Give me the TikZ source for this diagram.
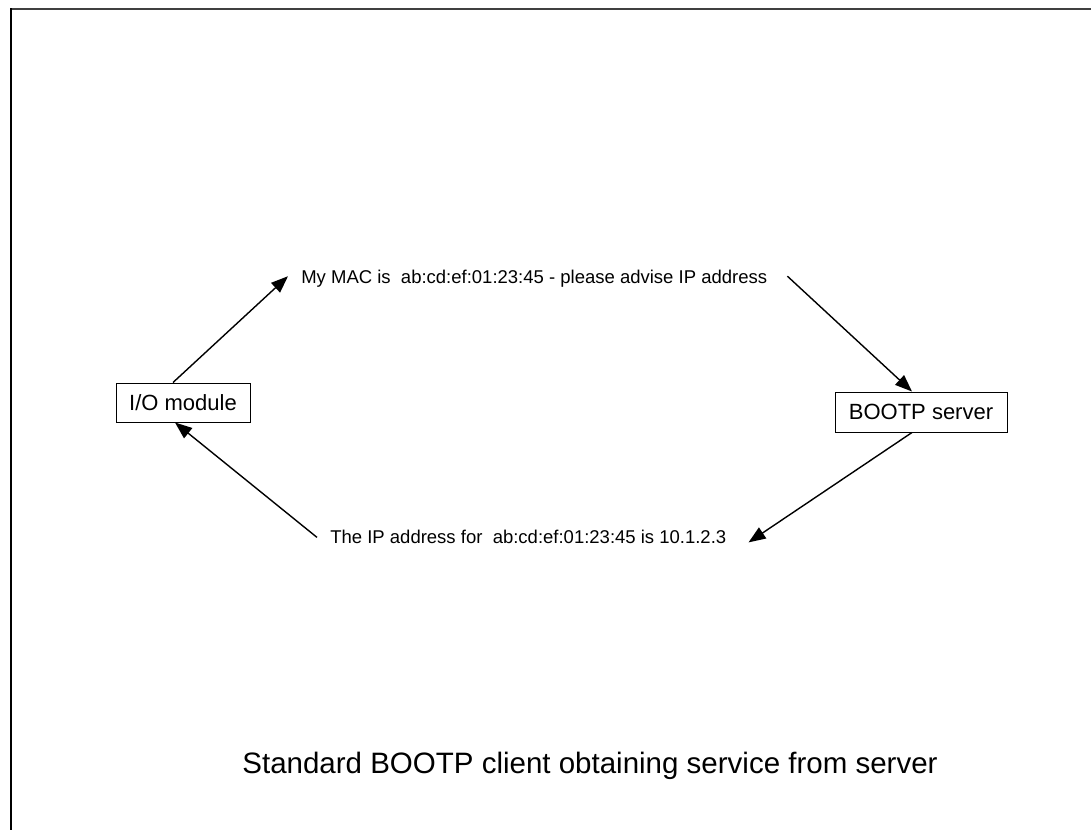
\documentclass[tikz,border=0pt]{standalone}
\usepackage{fontspec}
\setmainfont{Liberation Sans}
\usetikzlibrary{arrows.meta}

\begin{document}
\begin{tikzpicture}[x=1pt,y=-1pt,semithick,
  unit/.style={draw,line width=1pt,inner sep=0pt,minimum height=39pt,font=\fontsize{22}{24}\selectfont},
  msg/.style={inner sep=0pt,anchor=base west,font=\fontsize{18.5}{20}\selectfont},
  flow/.style={line width=1.4pt,-{Triangle[length=17pt,width=13pt]}}]
\useasboundingbox (0,0) rectangle (1091,830);
% frame
\draw[line width=2pt,black!75] (1091,9)--(10.5,9);
\draw[line width=2pt] (10.5,8)--(10.5,830);
% boxes
\node[unit,minimum width=134pt] (io) at (183,402.5) {I/O module};
\node[unit,minimum width=172pt,minimum height=40pt] (srv) at (921,412) {BOOTP server};
% messages
\node[msg] (req) at (301,283) {My MAC is \ ab:cd:ef:01:23:45 - please advise IP address};
\node[msg] (resp) at (330,543) {The IP address for \ ab:cd:ef:01:23:45 is 10.1.2.3};
\node[anchor=base,font=\fontsize{29.5}{32}\selectfont] (title) at (590,773)
  {Standard BOOTP client obtaining service from server};
% arrows
\draw[flow] ([xshift=-10pt]io.north)--([shift={(-13,-2)}]req.west);
\draw[flow] ([shift={(20,-2)}]req.east)--([xshift=-9pt]srv.north);
\draw[flow] ([xshift=-9pt]srv.south)--([shift={(22,6)}]resp.east);
\draw[flow] ([shift={(-13,1)}]resp.west)--([xshift=-8pt]io.south);
\end{tikzpicture}
\end{document}
